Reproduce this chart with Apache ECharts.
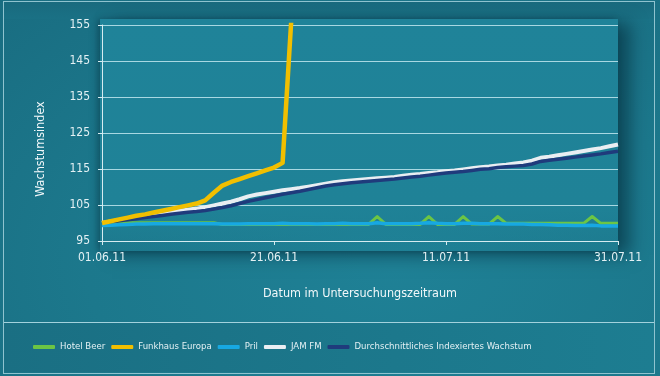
<!DOCTYPE html>
<html>
<head>
<meta charset="utf-8">
<script src="https://cdn.jsdelivr.net/npm/echarts@6/dist/echarts.min.js"></script>
<style>
  body { margin: 0; }
  #wrap {
    position: relative;
    width: 660px;
    height: 376px;
    overflow: hidden;
    background: radial-gradient(ellipse at 60% 70%, #1f8196 0%, #1c788c 55%, #196d81 100%);
  }
  .frame {
    position: absolute; left: 3px; top: 1px; width: 650px; height: 371px;
    border: 1px solid #8fc3cf;
  }
  .topband {
    position: absolute; left: 4px; top: 2px; width: 650px; height: 17px;
    background: linear-gradient(#196a7e, #1a7185);
  }
  .panel {
    position: absolute; left: 100px; top: 19px; width: 518px; height: 232px;
    background: linear-gradient(#1f8399, #1f8297 80%, rgba(31,128,150,0));
    box-shadow: 12px 4px 16px rgba(0, 35, 50, 0.55), -3px 0 6px rgba(0, 35, 50, 0.35);
  }
  .sep {
    position: absolute; left: 4px; top: 322px; width: 650px; height: 1px;
    background: #a3d2dd;
  }
  .legendband {
    position: absolute; left: 4px; top: 323px; width: 650px; height: 49px;
    background: linear-gradient(90deg, #1a6f83, #1c788c 60%, #1d7d91);
  }
  #chart { position: absolute; left: 0; top: 0; width: 660px; height: 376px; }
</style>
</head>
<body>
<div id="wrap">
  <div class="topband"></div>
  <div class="legendband"></div>
  <div class="panel"></div>
  <div class="sep"></div>
  <div class="frame"></div>
  <div id="chart"></div>
</div>
<script>
  const dates = [
    '01.06.11', '02.06.11', '03.06.11', '04.06.11', '05.06.11', '06.06.11', '07.06.11', '08.06.11',
    '09.06.11', '10.06.11', '11.06.11', '12.06.11', '13.06.11', '14.06.11', '15.06.11', '16.06.11',
    '17.06.11', '18.06.11', '19.06.11', '20.06.11', '21.06.11', '22.06.11', '23.06.11', '24.06.11',
    '25.06.11', '26.06.11', '27.06.11', '28.06.11', '29.06.11', '30.06.11', '01.07.11', '02.07.11',
    '03.07.11', '04.07.11', '05.07.11', '06.07.11', '07.07.11', '08.07.11', '09.07.11', '10.07.11',
    '11.07.11', '12.07.11', '13.07.11', '14.07.11', '15.07.11', '16.07.11', '17.07.11', '18.07.11',
    '19.07.11', '20.07.11', '21.07.11', '22.07.11', '23.07.11', '24.07.11', '25.07.11', '26.07.11',
    '27.07.11', '28.07.11', '29.07.11', '30.07.11', '31.07.11'
  ];
  const yTicks = [95, 105, 115, 125, 135, 145, 155];

  const hotelBeer = [
    100.1, 100.1, 100.1, 100.1, 100.1, 100.1, 100.1, 100.1, 100.1, 100.1, 100.1, 100.1, 100.1, 100.1,
    99.6, 99.6, 99.6, 99.6, 99.6, 99.6, 99.6, 99.6, 99.6, 99.6, 99.6, 99.6, 99.6, 99.6, 99.6, 99.6,
    99.6, 99.6, 101.8, 99.6, 99.6, 99.6, 99.6, 99.6, 101.8, 99.6, 99.6, 99.6, 101.8, 99.7, 99.7, 99.7,
    101.8, 99.9, 99.9, 99.9, 99.9, 99.9, 99.9, 99.9, 99.9, 99.9, 99.9, 101.8, 99.9, 99.9, 99.9
  ];
  const funkhausEuropa = [
    100.0, 100.5, 101.0, 101.5, 102.0, 102.4, 102.9, 103.4, 103.9, 104.4, 104.9, 105.4, 106.3, 108.4,
    110.4, 111.4, 112.2, 113.0, 113.8, 114.6, 115.4, 116.7, 156.0
  ];
  const pril = [
    99.3, 99.4, 99.5, 99.6, 99.7, 99.7, 99.8, 99.8, 99.8, 99.8, 99.8, 99.8, 99.8, 99.8, 99.7, 99.7,
    99.7, 99.8, 99.8, 99.8, 99.8, 99.9, 99.8, 99.8, 99.8, 99.7, 99.8, 99.8, 99.9, 99.8, 99.8, 99.8,
    100.1, 99.8, 99.8, 99.8, 99.8, 99.9, 100.1, 99.9, 99.8, 99.8, 99.9, 99.9, 99.8, 99.8, 99.8, 99.7,
    99.7, 99.7, 99.6, 99.6, 99.5, 99.4, 99.4, 99.3, 99.3, 99.4, 99.2, 99.2, 99.2
  ];
  const jamFm = [
    100.0, 100.4, 100.8, 101.2, 101.6, 102.0, 102.4, 102.8, 103.1, 103.4, 103.7, 104.0, 104.4, 104.9,
    105.4, 105.9, 106.6, 107.4, 107.9, 108.3, 108.7, 109.1, 109.4, 109.7, 110.1, 110.5, 110.9, 111.3,
    111.6, 111.8, 112.0, 112.2, 112.4, 112.6, 112.8, 113.1, 113.4, 113.6, 113.9, 114.1, 114.4, 114.6,
    114.9, 115.2, 115.5, 115.7, 116.0, 116.2, 116.5, 116.8, 117.3, 118.1, 118.4, 118.8, 119.2, 119.6,
    120.0, 120.4, 120.8, 121.3, 121.8
  ];
  const durchschnitt = [
    100.0, 100.3, 100.6, 100.9, 101.2, 101.5, 101.8, 102.1, 102.4, 102.7, 103.0, 103.2, 103.5, 103.9,
    104.3, 104.8, 105.4, 106.0, 106.5, 107.0, 107.5, 108.0, 108.4, 108.8, 109.3, 109.8, 110.3, 110.6,
    110.9, 111.2, 111.4, 111.6, 111.8, 112.0, 112.2, 112.5, 112.8, 113.0, 113.3, 113.6, 113.9, 114.1,
    114.3, 114.6, 114.9, 115.1, 115.4, 115.6, 115.8, 116.0, 116.4, 117.1, 117.4, 117.7, 118.0, 118.3,
    118.6, 118.9, 119.2, 119.6, 119.9
  ];

  const font = "'Liberation Sans Narrow', 'DejaVu Sans Condensed', 'Liberation Sans', sans-serif";
  const textColor = '#e4f1f4';
  const axisColor = '#d6ecf1';

  function lineSeries(name, data, color, width, z) {
    return {
      name: name,
      type: 'line',
      data: data,
      color: color,
      symbol: 'none',
      z: z,
      lineStyle: { color: color, width: width, join: 'round' }
    };
  }

  const chart = echarts.init(document.getElementById('chart'));
  chart.setOption({
    animation: false,
    backgroundColor: 'transparent',
    grid: { left: 102, right: 42, top: 25, bottom: 135 },
    legend: {
      data: ['Hotel Beer', 'Funkhaus Europa', 'Pril', 'JAM FM', 'Durchschnittliches Indexiertes Wachstum'],
      left: 33,
      top: 342,
      padding: 0,
      icon: 'roundRect',
      itemWidth: 22,
      itemHeight: 4,
      itemGap: 6,
      textStyle: { color: textColor, fontSize: 9.5, fontFamily: font }
    },
    xAxis: {
      type: 'category',
      data: dates,
      boundaryGap: false,
      name: 'Datum im Untersuchungszeitraum',
      nameLocation: 'middle',
      nameGap: 46,
      nameTextStyle: { color: '#f2f8fa', fontSize: 12.5, fontFamily: font },
      axisLine: { lineStyle: { color: axisColor, width: 1 } },
      axisTick: { interval: 19, length: 4, lineStyle: { color: axisColor } },
      axisLabel: { interval: 19, color: textColor, fontSize: 12, fontFamily: font, margin: 11 },
      splitLine: { show: false }
    },
    yAxis: {
      type: 'value',
      min: 95,
      max: 155,
      name: 'Wachstumsindex',
      nameLocation: 'middle',
      nameGap: 55,
      nameTextStyle: { color: '#f2f8fa', fontSize: 12.5, fontFamily: font, padding: [0, 32, 0, 0] },
      axisLine: { show: true, lineStyle: { color: axisColor, width: 1 } },
      axisTick: { show: true, length: 4, customValues: yTicks, lineStyle: { color: axisColor } },
      axisLabel: { customValues: yTicks, color: textColor, fontSize: 12, fontFamily: font, margin: 12 },
      splitLine: { show: true, lineStyle: { color: '#a8d8e2', width: 1 } }
    },
    series: [
      lineSeries('Hotel Beer', hotelBeer, '#6cc544', 3, 3),
      lineSeries('Funkhaus Europa', funkhausEuropa, '#f1bf00', 4.5, 6),
      lineSeries('Pril', pril, '#17a8e2', 3.5, 4),
      lineSeries('JAM FM', jamFm, '#e9eef2', 4, 2),
      lineSeries('Durchschnittliches Indexiertes Wachstum', durchschnitt, '#1f3b7c', 3.5, 3)
    ]
  });
</script>
</body>
</html>
